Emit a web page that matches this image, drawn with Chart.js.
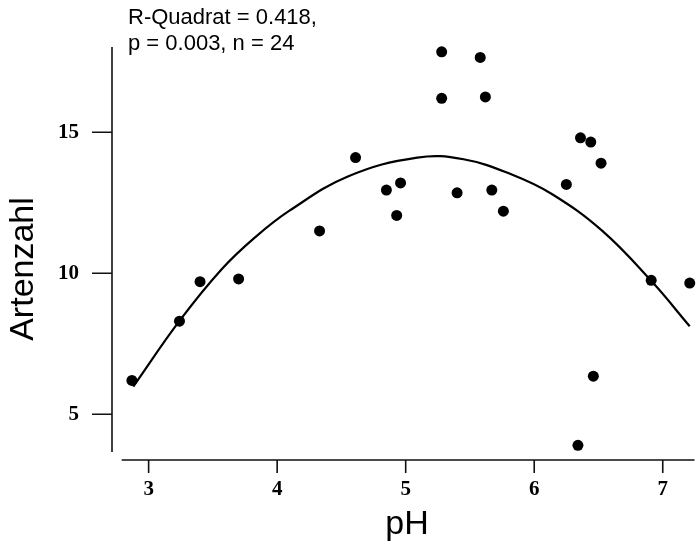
<!DOCTYPE html>
<html>
<head>
<meta charset="utf-8">
<script src="https://cdn.jsdelivr.net/npm/chart.js@4.4.1/dist/chart.umd.min.js"></script>
<style>
  html, body { margin: 0; padding: 0; background: #fff; }
  #box { width: 700px; height: 545px; }
</style>
</head>
<body>
<div id="box"><canvas id="chart"></canvas></div>
<script>
const phValues = [2.87, 3.24, 3.40, 3.70, 4.33, 4.61, 4.85, 4.93, 4.96, 5.28, 5.28, 5.40,
  5.58, 5.62, 5.67, 5.76, 6.25, 6.34, 6.36, 6.44, 6.46, 6.52, 6.91, 7.21];
const artenValues = [6.2, 8.3, 9.7, 9.8, 11.5, 14.1, 12.95, 12.05, 13.2, 17.85, 16.2, 12.85,
  17.65, 16.25, 12.95, 12.2, 13.15, 3.9, 14.8, 14.65, 6.35, 13.9, 9.75, 9.65];

// Regressionskurve
const fitX = [2.88, 3.24, 3.57, 3.83, 4.09, 4.55, 5.09, 5.45, 5.83, 6.14, 6.53, 6.91, 7.21];
const fitY = [5.98, 8.31, 10.15, 11.28, 12.2, 13.43, 14.1, 14.04, 13.49, 12.8, 11.5, 9.73, 8.12];

const xTicks = [3, 4, 5, 6, 7];
const yTicks = [5, 10, 15];

const xTitle = "pH";
const yTitle = "Artenzahl";
const statLines = ["R-Quadrat = 0.418,", "p = 0.003, n = 24"];

function toPoints(xs, ys) {
  return xs.map(function (x, i) {
    return { x: x, y: ys[i] };
  });
}

// Achsen im R-Stil (abgesetzt), Ticks + Texte
const rStyle = {
  id: "rStyle",
  afterDraw: function (chart) {
    const ctx = chart.ctx;
    const area = chart.chartArea;
    const xs = chart.scales.x;
    const ys = chart.scales.y;
    ctx.save();
    ctx.strokeStyle = "#111";
    ctx.lineWidth = 1.6;
    ctx.beginPath();
    ctx.moveTo(area.left, area.top);
    ctx.lineTo(area.left, ys.getPixelForValue(3.66));
    ctx.moveTo(xs.getPixelForValue(2.79), area.bottom);
    ctx.lineTo(area.right, area.bottom);

    xTicks.forEach(function (v) {
      const px = xs.getPixelForValue(v);
      ctx.moveTo(px, area.bottom);
      ctx.lineTo(px, area.bottom + 13);
    });
    yTicks.forEach(function (v) {
      const py = ys.getPixelForValue(v);
      ctx.moveTo(area.left, py);
      ctx.lineTo(area.left - 20, py);
    });
    ctx.stroke();

    ctx.fillStyle = "#000";
    ctx.font = "22px 'Liberation Sans', Arial, sans-serif";
    ctx.textAlign = "left";
    ctx.textBaseline = "alphabetic";
    ctx.fillText(statLines[0], 128, 24);
    ctx.fillText(statLines[1], 128, 50);

    ctx.font = "34px 'Liberation Sans', Arial, sans-serif";
    ctx.textAlign = "center";
    ctx.fillText(xTitle, 407, 534);

    ctx.translate(33, 269);
    ctx.rotate(-Math.PI / 2);
    ctx.fillText(yTitle, 0, 0);
    ctx.restore();
  },
};

function tickSetter(values) {
  return function (scale) {
    scale.ticks = values.map(function (v) {
      return { value: v };
    });
  };
}

const ctx = document.getElementById("chart");

new Chart(ctx, {
  type: "scatter",
  data: {
    datasets: [
      {
        data: toPoints(fitX, fitY),
        showLine: true,
        borderColor: "#000",
        borderWidth: 2.2,
        pointRadius: 0,
        tension: 0.4,
        fill: false,
      },
      {
        data: toPoints(phValues, artenValues),
        backgroundColor: "#000",
        borderWidth: 0,
        pointRadius: 5.5,
        clip: false,
      },
    ],
  },
  options: {
    responsive: true,
    maintainAspectRatio: false,
    animation: false,
    layout: { padding: { left: 0, right: 0, top: 47, bottom: 0 } },
    plugins: {
      legend: { display: false },
      tooltip: { enabled: false },
    },
    scales: {
      x: {
        type: "linear",
        min: 2.715,
        max: 7.247,
        afterBuildTicks: tickSetter(xTicks),
        afterFit: function (scale) {
          scale.height = 85;
        },
        border: { display: false },
        grid: { display: false, tickLength: 13 },
        ticks: {
          padding: 4,
          color: "#000",
          maxRotation: 0,
          font: { family: "'Liberation Serif', 'Times New Roman', serif", size: 21, weight: "bold" },
        },
      },
      y: {
        type: "linear",
        min: 3.38,
        max: 18.02,
        afterBuildTicks: tickSetter(yTicks),
        afterFit: function (scale) {
          scale.width = 112;
        },
        border: { display: false },
        grid: { display: false, tickLength: 20 },
        ticks: {
          padding: 13,
          color: "#000",
          font: { family: "'Liberation Serif', 'Times New Roman', serif", size: 21, weight: "bold" },
        },
      },
    },
  },
  plugins: [rStyle],
});
</script>
</body>
</html>
